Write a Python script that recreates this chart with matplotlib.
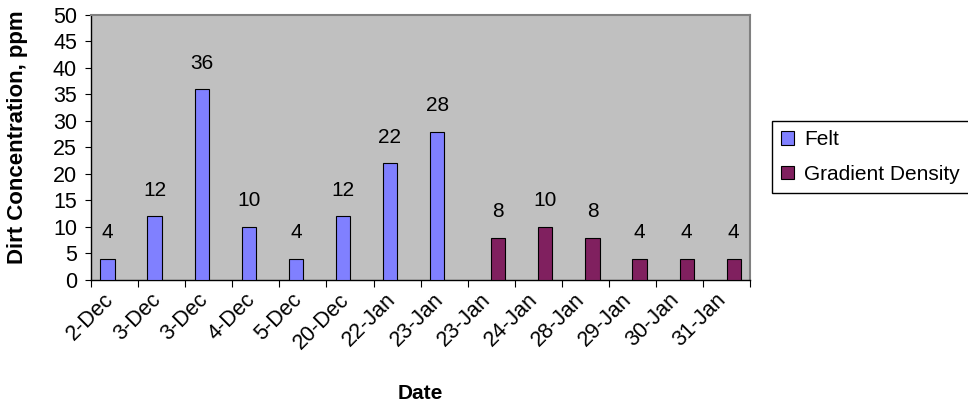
import numpy as np
import matplotlib.pyplot as plt
from matplotlib.transforms import ScaledTranslation

plt.rcParams['font.family'] = ['Liberation Sans', 'DejaVu Sans']

dates = ['2-Dec', '3-Dec', '3-Dec', '4-Dec', '5-Dec', '20-Dec', '22-Jan', '23-Jan',
         '23-Jan', '24-Jan', '28-Jan', '29-Jan', '30-Jan', '31-Jan']
felt = [4, 12, 36, 10, 4, 12, 22, 28, None, None, None, None, None, None]
gradient = [None, None, None, None, None, None, None, None, 8, 10, 8, 4, 4, 4]

felt_color = '#8080FF'
grad_color = '#80205F'

fig = plt.figure(figsize=(9.68, 4.11), dpi=100)
ax = fig.add_axes([0.094, 0.319, 0.681, 0.6445])
ax.set_facecolor('#C0C0C0')

x = np.arange(len(dates))
w = 0.3
felt_v = np.array([np.nan if v is None else v for v in felt], dtype=float)
grad_v = np.array([np.nan if v is None else v for v in gradient], dtype=float)

b1 = ax.bar(x - w / 2, felt_v, w, color=felt_color, edgecolor='black', linewidth=0.8,
            label='Felt', zorder=3)
b2 = ax.bar(x + w / 2, grad_v, w, color=grad_color, edgecolor='black', linewidth=0.8,
            label='Gradient Density', zorder=3)

for bars, vals in ((b1, felt), (b2, gradient)):
    for rect, v in zip(bars, vals):
        if v is None:
            continue
        ax.annotate(str(v), (rect.get_x() + rect.get_width() / 2, v),
                    xytext=(0, 12), textcoords='offset points',
                    ha='center', va='bottom', fontsize=15)

ax.set_xlim(-0.5, len(dates) - 0.5)
ax.set_ylim(0, 50)
ax.set_yticks(np.arange(0, 51, 5))
ax.tick_params(axis='y', labelsize=15.5, length=4, direction='out', pad=6)

# boundary ticks (major) and category labels (minor)
ax.set_xticks(np.arange(-0.5, len(dates), 1))
ax.set_xticklabels([])
ax.set_xticks(x, minor=True)
ax.set_xticklabels(dates, minor=True, rotation=45, ha='right', va='center',
                   rotation_mode='anchor', fontsize=15.5)
ax.tick_params(axis='x', which='major', length=5, direction='out')
ax.tick_params(axis='x', which='minor', length=0, pad=12)
shift = ScaledTranslation(-4 / 100, 0, fig.dpi_scale_trans)
for lbl in ax.get_xticklabels(minor=True):
    lbl.set_transform(lbl.get_transform() + shift)

for s in ('top', 'right'):
    ax.spines[s].set_color('#808080')
    ax.spines[s].set_linewidth(1.5)
for s in ('left', 'bottom'):
    ax.spines[s].set_color('black')
    ax.spines[s].set_linewidth(1.0)

ax.set_ylabel('Dirt Concentration, ppm', fontsize=16, fontweight='bold')
ax.yaxis.set_label_coords(-0.095, 0.54)
ax.set_xlabel('Date', fontsize=15, fontweight='bold', labelpad=22)

leg = ax.legend(loc='upper left', bbox_to_anchor=(1.033, 0.6), fontsize=15,
                frameon=True, fancybox=False, edgecolor='black', framealpha=1,
                handlelength=0.6, handleheight=0.6, handletextpad=0.5,
                labelspacing=0.75, borderpad=0.45, borderaxespad=0)
leg.get_frame().set_linewidth(1.0)

fig.savefig('out.png', dpi=100)
